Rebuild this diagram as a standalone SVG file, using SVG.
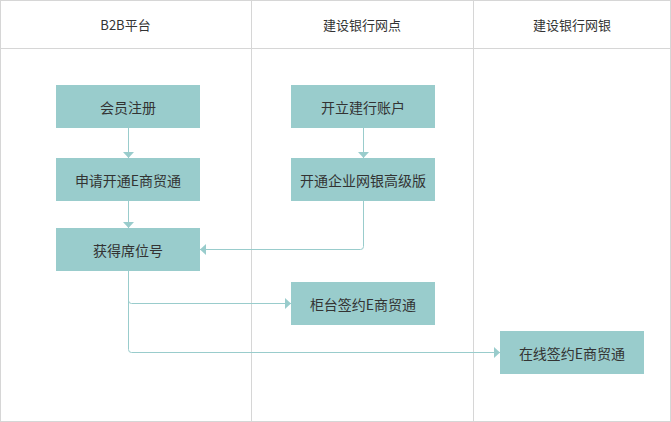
<svg xmlns="http://www.w3.org/2000/svg" width="671" height="422" viewBox="0 0 671 422">
<defs>
<style>
.grid{stroke:#d6d6d6;stroke-width:1;fill:none}
.box{fill:#99cccc}
.t{font-family:"Noto Sans CJK SC","Liberation Sans",sans-serif;font-size:14px;fill:#333;text-anchor:middle;dominant-baseline:central}
.h{font-family:"Noto Sans CJK SC","Liberation Sans",sans-serif;font-size:13px;fill:#333;text-anchor:middle;dominant-baseline:central}
.c{stroke:#99cccc;stroke-width:1;fill:none}
</style>
<marker id="ah" markerWidth="6" markerHeight="11" refX="6" refY="5.5" orient="auto" markerUnits="userSpaceOnUse">
<path d="M0,0 L6,5.5 L0,11 Z" fill="#99cccc"/>
</marker>
</defs>
<rect width="671" height="422" fill="#fff"/>
<g id="lanes">
<rect class="grid" x="0.5" y="0.5" width="670" height="421"/>
<line class="grid" x1="0" y1="48.5" x2="671" y2="48.5"/>
<line class="grid" x1="251.5" y1="0" x2="251.5" y2="422"/>
<line class="grid" x1="473.5" y1="0" x2="473.5" y2="422"/>
<text class="h" x="125.5" y="24">B2B平台</text>
<text class="h" x="362" y="24">建设银行网点</text>
<text class="h" x="572" y="24">建设银行网银</text>
</g>
<g id="connectors">
<path class="c" d="M128.5,128 V158" marker-end="url(#ah)"/>
<path class="c" d="M128.5,201 V228" marker-end="url(#ah)"/>
<path class="c" d="M363.5,128 V158" marker-end="url(#ah)"/>
<path class="c" d="M363.5,201 V246.5 Q363.5,249.5 360.5,249.5 H200" marker-end="url(#ah)"/>
<path class="c" d="M128.5,271 V300.5 Q128.5,303.5 131.5,303.5 H291" marker-end="url(#ah)"/>
<path class="c" d="M128.5,271 V349.5 Q128.5,352.5 131.5,352.5 H500" marker-end="url(#ah)"/>
</g>
<g id="n1"><rect class="box" x="56" y="85" width="144" height="43"/><text class="t" x="128" y="106.5">会员注册</text></g>
<g id="n2"><rect class="box" x="56" y="158" width="144" height="43"/><text class="t" x="128" y="179.5">申请开通E商贸通</text></g>
<g id="n3"><rect class="box" x="56" y="228" width="144" height="43"/><text class="t" x="128" y="249.5">获得席位号</text></g>
<g id="n4"><rect class="box" x="291" y="85" width="144" height="43"/><text class="t" x="363" y="106.5">开立建行账户</text></g>
<g id="n5"><rect class="box" x="291" y="158" width="144" height="43"/><text class="t" x="363" y="179.5">开通企业网银高级版</text></g>
<g id="n6"><rect class="box" x="291" y="282" width="144" height="43"/><text class="t" x="363" y="303.5">柜台签约E商贸通</text></g>
<g id="n7"><rect class="box" x="500" y="331" width="144" height="43"/><text class="t" x="572" y="352.5">在线签约E商贸通</text></g>
</svg>
